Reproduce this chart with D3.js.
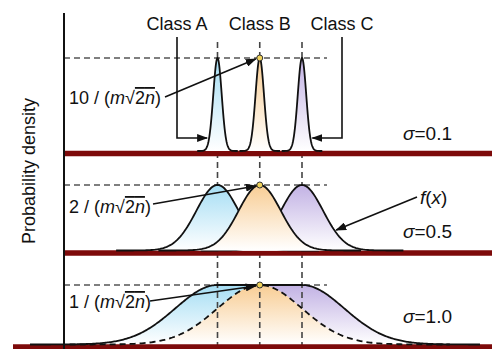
<!DOCTYPE html>
<html>
<head>
<meta charset="utf-8">
<script src="https://cdn.jsdelivr.net/npm/d3@7"></script>
<style>
  body { margin: 0; background: #fff; }
  text { font-family: "Liberation Sans", Arial, sans-serif; fill: #111; }
</style>
</head>
<body>
<script>
// class centres (in units of the x axis) and the three spreads
var classes = ["Class A", "Class B", "Class C"];
var means = [-1, 0, 1];
var sigmas = [0.1, 0.5, 1.0];
var sigmaLabels = ["0.1", "0.5", "1.0"];
var peakFactors = ["10", "2", "1"];
var classColors = ["#a6def4", "#f8cd94", "#c2b2e4"];

var width = 492, height = 349;

var svg = d3.select("body")
  .append("svg")
  .attr("width", width)
  .attr("height", height);

// each panel: pixel baseline / peak level and where its red floor starts
var panels = [
  { base: 151, top: 58, redY: 153.5, redX0: 64 },
  { base: 250.5, top: 185, redY: 253, redX0: 64 },
  { base: 344.5, top: 285, redY: 347, redX0: 13 }
];

var x = d3.scaleLinear().domain([-1, 1]).range([217.5, 302]);

function pdf(v, mu, s) {
  return Math.exp(-(v - mu) * (v - mu) / (2 * s * s)) / (s * Math.sqrt(2 * Math.PI));
}

// envelope used for sigma = 1: flat between the outer classes
function envelope(v, s) {
  var lo = d3.min(means), hi = d3.max(means);
  var d = v < lo ? lo - v : (v > hi ? v - hi : 0);
  return pdf(d, 0, s);
}

var defs = svg.append("defs");

classColors.forEach(function(c, i) {
  var g = defs.append("linearGradient")
    .attr("id", "grad" + i)
    .attr("x1", 0).attr("y1", 0).attr("x2", 0).attr("y2", 1);
  g.append("stop").attr("offset", "0%").attr("stop-color", c);
  g.append("stop").attr("offset", "100%").attr("stop-color", "#fff");
});

defs.append("marker")
  .attr("id", "arrow")
  .attr("markerUnits", "userSpaceOnUse")
  .attr("markerWidth", 11).attr("markerHeight", 8)
  .attr("refX", 10).attr("refY", 4)
  .attr("orient", "auto")
  .append("path")
  .attr("d", "M0,0 L11,4 L0,8 z")
  .attr("fill", "#111");

var layerFill = svg.append("g");
var layerGrid = svg.append("g");
var layerFloor = svg.append("g");
var layerCurve = svg.append("g");
var layerNote = svg.append("g");

function sampleRange(a, b, n) {
  return d3.range(n + 1).map(function(k) { return a + (b - a) * k / n; });
}

// ---- panels ----
panels.forEach(function(p, pi) {
  var s = sigmas[pi];
  var peak = pdf(0, 0, s);
  var y = d3.scaleLinear().domain([0, peak]).range([p.base, p.top]);

  var area = d3.area()
    .x(function(d) { return x(d[0]); })
    .y0(p.base)
    .y1(function(d) { return y(d[1]); });
  var line = d3.line()
    .x(function(d) { return x(d[0]); })
    .y(function(d) { return y(d[1]); });

  // horizontal dashed line at peak level
  layerGrid.append("line")
    .attr("x1", 64).attr("x2", x(1) + 25)
    .attr("y1", y(peak)).attr("y2", y(peak))
    .attr("stroke", "#555")
    .attr("stroke-width", 1.5)
    .attr("stroke-dasharray", "6,4");

  // red floor
  layerFloor.append("line")
    .attr("x1", p.redX0).attr("x2", width)
    .attr("y1", p.redY).attr("y2", p.redY)
    .attr("stroke", "#7d0a0a")
    .attr("stroke-width", 5.5);

  if (pi < 2) {
    // B drawn last so it sits on top
    [0, 2, 1].forEach(function(ci) {
      var mu = means[ci];
      var pts = sampleRange(mu - 4.8 * s, mu + 4.8 * s, 120).map(function(v) {
        return [v, pdf(v, mu, s)];
      });
      var g = layerCurve.append("g");
      g.append("path")
        .attr("d", area(pts))
        .attr("fill", "url(#grad" + ci + ")");
      g.append("path")
        .attr("d", line(pts))
        .attr("fill", "none")
        .attr("stroke", "#111")
        .attr("stroke-width", 1.8);
    });
  } else {
    var v0 = x.invert(30), v1 = x.invert(480), vm = means[1];
    var left = sampleRange(v0, vm, 200).map(function(v) { return [v, envelope(v, s)]; });
    var right = sampleRange(vm, v1, 200).map(function(v) { return [v, envelope(v, s)]; });
    var all = sampleRange(v0, v1, 400).map(function(v) { return [v, envelope(v, s)]; });
    var bPts = sampleRange(vm - 4.5 * s, vm + 4.5 * s, 200).map(function(v) {
      return [v, pdf(v, vm, s)];
    });

    layerFill.append("path").attr("d", area(left)).attr("fill", "url(#grad0)");
    layerFill.append("path").attr("d", area(right)).attr("fill", "url(#grad2)");
    layerFill.append("path").attr("d", area(bPts)).attr("fill", "url(#grad1)");

    layerCurve.append("path")
      .attr("d", line(bPts))
      .attr("fill", "none")
      .attr("stroke", "#111")
      .attr("stroke-width", 1.8)
      .attr("stroke-dasharray", "6,4");
    layerCurve.append("path")
      .attr("d", line(all))
      .attr("fill", "none")
      .attr("stroke", "#111")
      .attr("stroke-width", 1.8);
  }

  p.y = y;
  p.peak = peak;
});

// vertical dashed lines at class centres
means.forEach(function(mu) {
  layerGrid.append("line")
    .attr("x1", x(mu)).attr("x2", x(mu))
    .attr("y1", 42).attr("y2", height)
    .attr("stroke", "#444")
    .attr("stroke-width", 1.6)
    .attr("stroke-dasharray", "6,4");
});

// y axis
svg.append("line")
  .attr("x1", 64).attr("x2", 64)
  .attr("y1", 13).attr("y2", height)
  .attr("stroke", "#111")
  .attr("stroke-width", 2);

svg.append("text")
  .attr("transform", "translate(35,171) rotate(-90)")
  .attr("text-anchor", "middle")
  .style("font-size", "18px")
  .text("Probability density");

// class labels
var classLabelX = [177, x(0), 342];
classes.forEach(function(c, i) {
  svg.append("text")
    .attr("x", classLabelX[i]).attr("y", 30)
    .attr("text-anchor", "middle")
    .style("font-size", "18px")
    .text(c);
});

// Class A / Class C pointer arrows at the sigma = 0.1 curves
var p0 = panels[0];
var hitY = 138;
var ratio = (p0.base - hitY) / (p0.base - p0.top);
var dx = sigmas[0] * Math.sqrt(-2 * Math.log(ratio));
layerNote.append("path")
  .attr("d", "M" + classLabelX[0] + ",37 V" + hitY + " H" + (x(means[0] - dx) - 2))
  .attr("fill", "none").attr("stroke", "#111").attr("stroke-width", 1.6)
  .attr("marker-end", "url(#arrow)");
layerNote.append("path")
  .attr("d", "M" + classLabelX[2] + ",37 V" + hitY + " H" + (x(means[2] + dx) + 2))
  .attr("fill", "none").attr("stroke", "#111").attr("stroke-width", 1.6)
  .attr("marker-end", "url(#arrow)");

// peak formula labels with arrows to the class B peak
var formulaY = [104, 213, 308];
var lineStart = [[165, 97], [153, 204], [150, 301]];
panels.forEach(function(p, pi) {
  var t = svg.append("text")
    .attr("x", 69).attr("y", formulaY[pi])
    .style("font-size", "18px");
  t.append("tspan").text(peakFactors[pi] + " / (");
  t.append("tspan").style("font-style", "italic").text("m");
  t.append("tspan").text("\u221A");
  var r = t.append("tspan").style("text-decoration", "overline");
  r.append("tspan").text("2");
  r.append("tspan").style("font-style", "italic").text("n");
  t.append("tspan").text(")");

  var tx = x(0), ty = p.y(p.peak);
  layerNote.append("line")
    .attr("x1", lineStart[pi][0]).attr("y1", lineStart[pi][1])
    .attr("x2", tx - 4).attr("y2", ty + 1)
    .attr("stroke", "#111").attr("stroke-width", 1.6)
    .attr("marker-end", "url(#arrow)");

  layerNote.append("circle")
    .attr("cx", tx).attr("cy", ty).attr("r", 3)
    .attr("fill", "#f0d25a").attr("stroke", "#333").attr("stroke-width", 1);
});

// sigma labels
var sigmaY = [140, 238, 323];
sigmaLabels.forEach(function(s, i) {
  var t = svg.append("text").attr("x", 403).attr("y", sigmaY[i]).style("font-size", "19px");
  t.append("tspan").style("font-style", "italic").text("\u03C3");
  t.append("tspan").text("=" + s);
});

// f(x) label pointing at class C in the sigma = 0.5 panel
var p1 = panels[1];
var fy = 230;
var fr = (p1.base - fy) / (p1.base - p1.top);
var fdx = sigmas[1] * Math.sqrt(-2 * Math.log(fr));
var ft = svg.append("text").attr("x", 420).attr("y", 204).style("font-size", "19px");
ft.append("tspan").style("font-style", "italic").text("f");
ft.append("tspan").text("(");
ft.append("tspan").style("font-style", "italic").text("x");
ft.append("tspan").text(")");
layerNote.append("line")
  .attr("x1", 417).attr("y1", 197)
  .attr("x2", x(means[2] + fdx) + 2).attr("y2", fy)
  .attr("stroke", "#111").attr("stroke-width", 1.6)
  .attr("marker-end", "url(#arrow)");
</script>
</body>
</html>
